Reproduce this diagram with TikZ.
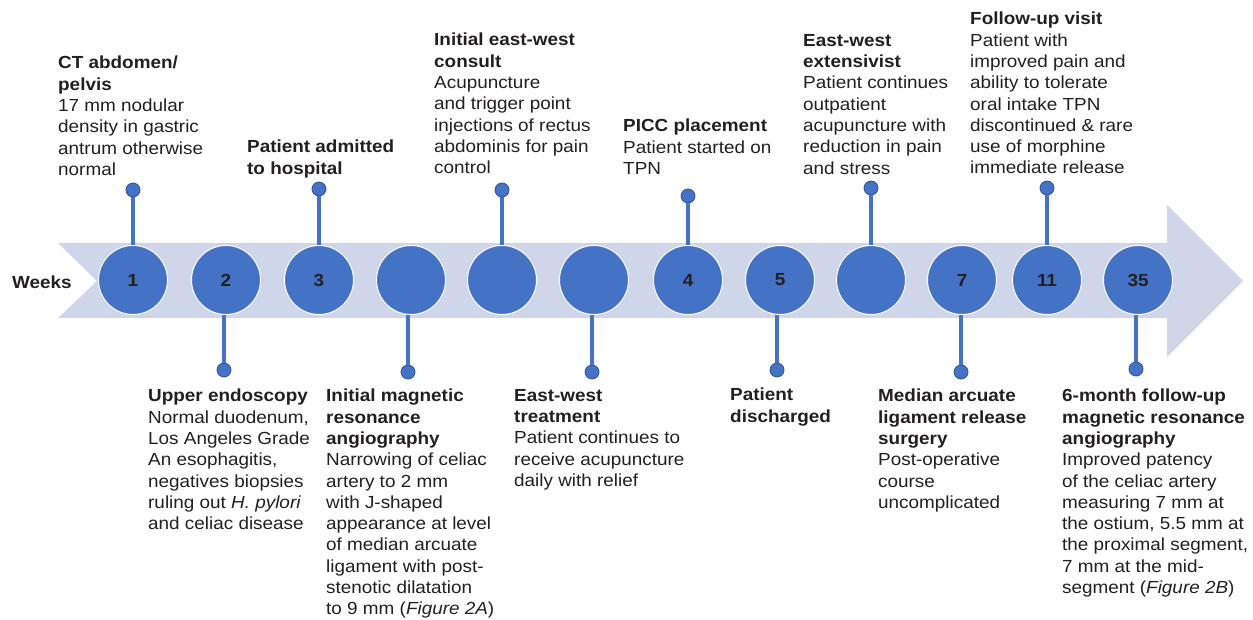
\documentclass[tikz,border=0pt]{standalone}
\usepackage{fontspec}
\setmainfont{Liberation Sans}[FakeStretch=1.08]
\definecolor{ttblue}{HTML}{4472C4}
\definecolor{ttdark}{HTML}{2F528F}
\definecolor{ttband}{HTML}{D0D6EA}
\definecolor{tttext}{HTML}{231F20}
\begin{document}
\begin{tikzpicture}[x=1pt,y=-1pt,
    week/.style={circle,fill=ttblue,draw=white,line width=1pt,minimum size=69pt,inner sep=0pt,
      font=\fontsize{17.5}{21.3}\selectfont\bfseries,text=tttext},
    pindot/.style={circle,fill=ttblue,draw=ttdark,line width=0.8pt,minimum size=14pt,inner sep=0pt},
    stem/.style={ttblue,line width=4pt},
    note/.style={anchor=north west,align=left,inner sep=0pt,
      font=\fontsize{17.5}{21.3}\selectfont,text=tttext}]
  \useasboundingbox (0,0) rectangle (1253,620);

  % band with arrow head
  \fill[ttband] (58,243) -- (1167,243) -- (1167,205) -- (1243,281) -- (1167,357)
    -- (1167,318) -- (58,318) -- (97,281) -- cycle;
  \node[anchor=west,inner sep=0pt,font=\fontsize{17.5}{21.3}\selectfont\bfseries,text=tttext]
    (weeks) at (12,282) {Weeks};

  % pins above the band
  \node[pindot] (d1) at (133,190) {};
  \node[pindot] (d3) at (319,189) {};
  \node[pindot] (db) at (502,190) {};
  \node[pindot] (d4) at (688,196) {};
  \node[pindot] (dd) at (871,188) {};
  \node[pindot] (d11) at (1047,188) {};
  % pins below the band
  \node[pindot] (d2) at (224,370) {};
  \node[pindot] (da) at (408,372) {};
  \node[pindot] (dc) at (592,372) {};
  \node[pindot] (d5) at (777,370) {};
  \node[pindot] (d7) at (961,372) {};
  \node[pindot] (d35) at (1136,369) {};

  \foreach \d/\y in {d1,d3,db,d4,dd,d11}
    \draw[stem] (\d) -- (\d |- 0,250);
  \foreach \d in {d2,da,dc,d5,d7,d35}
    \draw[stem] (\d) -- (\d |- 0,312);

  % the weeks
  \node[week] (w1) at (133,280) {1};
  \node[week] (w2) at (226,280) {2};
  \node[week] (w3) at (319,280) {3};
  \node[week] (wa) at (411,280) {};
  \node[week] (wb) at (502,280) {};
  \node[week] (wc) at (594,280) {};
  \node[week] (w4) at (688,280) {4};
  \node[week] (w5) at (780,280) {5};
  \node[week] (wd) at (871,280) {};
  \node[week] (w7) at (962,280) {7};
  \node[week] (w11) at (1047,280) {11};
  \node[week] (w35) at (1138,280) {35};

  % notes above
  \node[note] (ct) at (58,56) {\textbf{CT abdomen/}\\\textbf{pelvis}\\17 mm nodular\\density in gastric\\antrum otherwise\\normal};
  \node[note] (admit) at (247,140) {\textbf{Patient admitted}\\\textbf{to hospital}};
  \node[note] (consult) at (434,33) {\textbf{Initial east-west}\\\textbf{consult}\\Acupuncture\\and trigger point\\injections of rectus\\abdominis for pain\\control};
  \node[note] (picc) at (623,119) {\textbf{PICC placement}\\Patient started on\\TPN};
  \node[note] (extens) at (803,34) {\textbf{East-west}\\\textbf{extensivist}\\Patient continues\\outpatient\\acupuncture with\\reduction in pain\\and stress};
  \node[note] (visit) at (970,12) {\textbf{Follow-up visit}\\Patient with\\improved pain and\\ability to tolerate\\oral intake TPN\\discontinued \& rare\\use of morphine\\immediate release};

  % notes below
  \node[note] (endo) at (148,389) {\textbf{Upper endoscopy}\\Normal duodenum,\\Los Angeles Grade\\An esophagitis,\\negatives biopsies\\ruling out \textit{H. pylori}\\and celiac disease};
  \node[note] (mra) at (326,389) {\textbf{Initial magnetic}\\\textbf{resonance}\\\textbf{angiography}\\Narrowing of celiac\\artery to 2 mm\\with J-shaped\\appearance at level\\of median arcuate\\ligament with post-\\stenotic dilatation\\to 9 mm (\textit{Figure 2A})};
  \node[note] (treat) at (514,389) {\textbf{East-west}\\\textbf{treatment}\\Patient continues to\\receive acupuncture\\daily with relief};
  \node[note] (disch) at (730,388) {\textbf{Patient}\\\textbf{discharged}};
  \node[note] (surg) at (878,389) {\textbf{Median arcuate}\\\textbf{ligament release}\\\textbf{surgery}\\Post-operative\\course\\uncomplicated};
  \node[note] (mra6) at (1062,389) {\textbf{6-month follow-up}\\\textbf{magnetic resonance}\\\textbf{angiography}\\Improved patency\\of the celiac artery\\measuring 7 mm at\\the ostium, 5.5 mm at\\the proximal segment,\\7 mm at the mid-\\segment (\textit{Figure 2B})};
\end{tikzpicture}
\end{document}
